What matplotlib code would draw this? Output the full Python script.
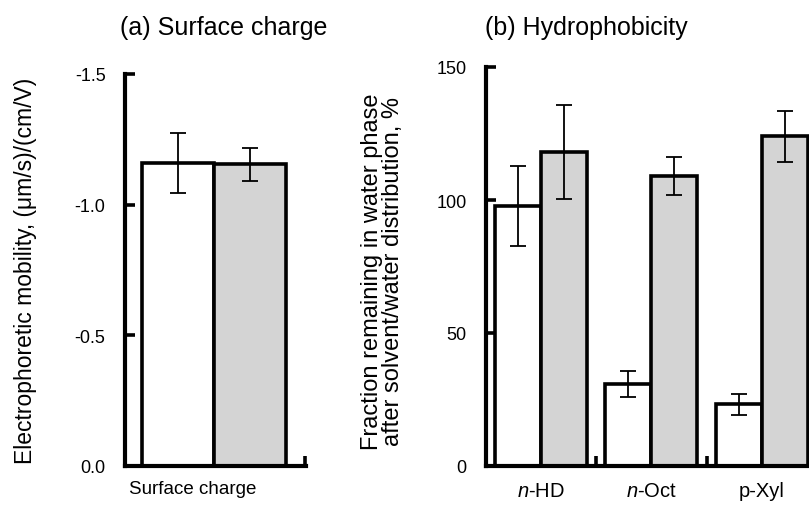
import matplotlib
matplotlib.use("Agg")
import matplotlib.pyplot as plt

plt.rcParams["font.family"] = ["Liberation Sans", "DejaVu Sans"]
plt.rcParams["mathtext.fontset"] = "custom"
plt.rcParams["mathtext.rm"] = "Liberation Sans"
plt.rcParams["mathtext.it"] = "Liberation Sans:italic"

# (a) surface charge
charge_label = "Surface charge"
charge_white = -1.16
charge_white_err = 0.115
charge_gray = -1.155
charge_gray_err = 0.063
charge_ticks = [0.0, -0.5, -1.0, -1.5]
charge_ticklabels = ["0.0", "-0.5", "-1.0", "-1.5"]

# (b) hydrophobicity
solvents = [r"$\it{n}$-HD", r"$\it{n}$-Oct", "p-Xyl"]
frac_white = [97.7, 30.8, 23.2]
frac_white_err = [15.0, 5.0, 4.0]
frac_gray = [118.0, 109.0, 124.0]
frac_gray_err = [17.7, 7.0, 9.6]
frac_ticks = [0, 50, 100, 150]

GRAY = "#d4d4d4"
SPINE_LW = 3.0
BAR_LW = 2.6
ERR = dict(fmt="none", ecolor="black", elinewidth=1.3, capsize=6, capthick=1.3, zorder=3)

fig = plt.figure(figsize=(8.09, 5.10), dpi=100)
W, H = 809, 510


def style_axes(ax):
	for side in ("top", "right"):
		ax.spines[side].set_visible(False)
	for side in ("left", "bottom"):
		ax.spines[side].set_linewidth(SPINE_LW)
	ax.tick_params(axis="y", direction="in", length=7, width=2.6, labelsize=13, pad=14)
	ax.tick_params(axis="x", which="major", length=0, pad=11)
	ax.tick_params(axis="x", which="minor", direction="in", length=7, width=2.6)


# ---- left panel
ax1 = fig.add_axes([125 / W, 43 / H, 181 / W, 392 / H])
style_axes(ax1)
ax1.bar([0.5], [charge_white], width=1.0, color="white", edgecolor="black", linewidth=BAR_LW, zorder=2)
ax1.bar([1.5], [charge_gray], width=1.0, color=GRAY, edgecolor="black", linewidth=BAR_LW, zorder=2)
ax1.errorbar([0.5, 1.5], [charge_white, charge_gray], yerr=[charge_white_err, charge_gray_err], **ERR)
ax1.set_ylim(0, -1.5)
ax1.set_xlim(-0.236, 2.278)
ax1.set_yticks(charge_ticks)
ax1.set_yticklabels(charge_ticklabels)
ax1.set_xticks([0.71])
ax1.set_xticklabels([charge_label], fontsize=13.5)
ax1.tick_params(axis="x", which="major", pad=10)
ax1.set_xticks([2.26], minor=True)
ax1.set_ylabel("Electrophoretic mobility, (\u03bcm/s)/(cm/V)", fontsize=16.5, labelpad=27)

# ---- right panel
ax2 = fig.add_axes([486 / W, 43 / H, (W - 486) / W + 0.01, 399 / H])
style_axes(ax2)
spacing = 2.4
centers = [i * spacing for i in range(len(solvents))]
ax2.bar([c - 0.5 for c in centers], frac_white, width=1.0, color="white", edgecolor="black", linewidth=BAR_LW, zorder=2)
ax2.bar([c + 0.5 for c in centers], frac_gray, width=1.0, color=GRAY, edgecolor="black", linewidth=BAR_LW, zorder=2)
ax2.errorbar([c - 0.5 for c in centers], frac_white, yerr=frac_white_err, **ERR)
ax2.errorbar([c + 0.5 for c in centers], frac_gray, yerr=frac_gray_err, **ERR)
ax2.set_ylim(0, 150)
ax2.set_xlim(-1.187, 6.0)
ax2.set_yticks(frac_ticks)
ax2.set_xticks(centers)
ax2.set_xticklabels(solvents, fontsize=14.5)
ax2.set_xticks([(i + 0.5) * spacing for i in range(len(solvents) - 1)], minor=True)

fig.text(372 / W, 1 - 272 / H, "Fraction remaining in water phase", rotation=90,
	ha="center", va="center", fontsize=17)
fig.text(393 / W, 1 - 272 / H, "after solvent/water distribution, %", rotation=90,
	ha="center", va="center", fontsize=17)

fig.text(224 / W, 1 - 28 / H, "(a) Surface charge", ha="center", va="center", fontsize=18)
fig.text(586 / W, 1 - 28 / H, "(b) Hydrophobicity", ha="center", va="center", fontsize=18)

fig.savefig("out.png", dpi=100)
